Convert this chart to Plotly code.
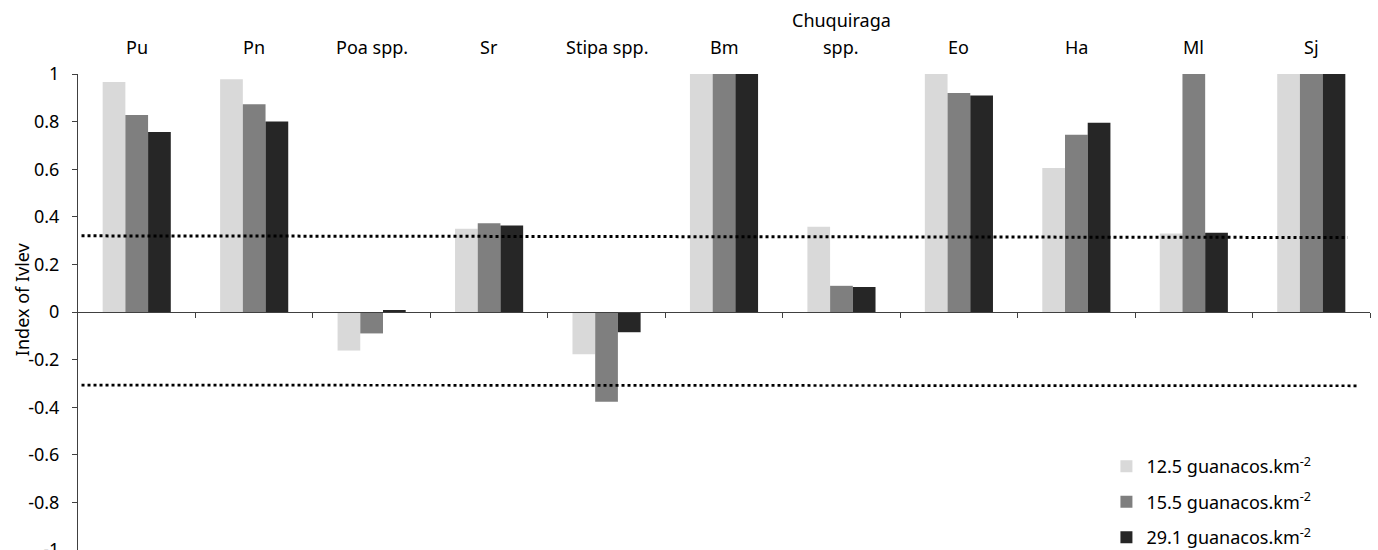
import plotly.graph_objects as go

# Plant taxa (two-line labels split with "\n")
categories = ["Pu", "Pn", "Poa spp.", "Sr", "Stipa spp.", "Bm",
              "Chuquiraga\nspp.", "Eo", "Ha", "Ml", "Sj"]

# Ivlev electivity index per guanaco density
series_names = ["12.5 guanacos.km<sup>-2</sup>",
                "15.5 guanacos.km<sup>-2</sup>",
                "29.1 guanacos.km<sup>-2</sup>"]
ivlev_12_5 = [0.966, 0.978, -0.162, 0.350, -0.178, 1.0, 0.358, 1.0, 0.605, 0.330, 1.0]
ivlev_15_5 = [0.828, 0.873, -0.090, 0.373, -0.377, 1.0, 0.110, 0.920, 0.745, 1.0, 1.0]
ivlev_29_1 = [0.756, 0.800, 0.005, 0.363, -0.085, 1.0, 0.105, 0.910, 0.795, 0.333, 1.0]
series_colors = ["#d9d9d9", "#7f7f7f", "#262626"]

# Selection / avoidance thresholds (start and end of each dotted line)
upper_x = [-0.47, 10.31]
upper_y = [0.320, 0.313]
lower_x = [-0.47, 10.39]
lower_y = [-0.307, -0.310]

y_ticks = [1, 0.8, 0.6, 0.4, 0.2, 0, -0.2, -0.4, -0.6, -0.8, -1]
y_tick_text = ["1", "0.8", "0.6", "0.4", "0.2", "0", "-0.2", "-0.4", "-0.6", "-0.8", "-1"]

FONT = "Noto Sans"
FS = 18
x_idx = list(range(len(categories)))

fig = go.Figure()
for name, vals, col in zip(series_names, [ivlev_12_5, ivlev_15_5, ivlev_29_1], series_colors):
    fig.add_trace(go.Bar(x=x_idx, y=vals, name=name, legendgroup=name,
                         marker=dict(color=col, line=dict(width=0))))

fig.add_trace(go.Scatter(x=upper_x, y=upper_y, mode="lines", showlegend=False,
                         line=dict(color="black", width=3, dash="dot")))
fig.add_trace(go.Scatter(x=lower_x, y=lower_y, mode="lines", showlegend=False,
                         line=dict(color="black", width=2.7, dash="dot")))

# Category names above the plot, bottom-aligned, one annotation per line
annotations = []
for i, lab in enumerate(categories):
    lines = lab.split("\n")
    for k, line in enumerate(reversed(lines)):
        annotations.append(dict(x=i, y=1, xref="x", yref="paper", text=line,
                                showarrow=False, xanchor="center", yanchor="bottom",
                                yshift=13 + 27 * k,
                                font=dict(family=FONT, size=FS, color="black")))

# Y-axis title placed left of the tick labels
annotations.append(dict(x=0, y=0.527, xref="paper", yref="paper", text="Index of Ivlev",
                        showarrow=False, textangle=-90, xanchor="center", yanchor="middle",
                        xshift=-56, font=dict(family=FONT, size=FS, color="black")))

fig.update_layout(
    width=1378, height=550,
    margin=dict(l=78, r=8, t=74, b=0, autoexpand=False),
    paper_bgcolor="white", plot_bgcolor="white",
    barmode="group", bargap=0.42, bargroupgap=0,
    font=dict(family=FONT, size=FS, color="black"),
    annotations=annotations,
    showlegend=True,
    legend=dict(x=0.796, y=0.214, xanchor="left", yanchor="top",
                bgcolor="rgba(0,0,0,0)", tracegroupgap=9,
                font=dict(family=FONT, size=FS, color="black"),
                itemwidth=30),
    xaxis=dict(range=[-0.5, len(categories) - 0.5], anchor="free", position=0.5,
               showgrid=False, zeroline=False, showline=True, linecolor="#404040", linewidth=1,
               tickmode="array", tickvals=[i + 0.5 for i in x_idx],
               ticks="outside", ticklen=5, tickcolor="#404040", showticklabels=False),
    yaxis=dict(range=[-1, 1], showgrid=False, zeroline=False, showline=True,
               linecolor="#404040", linewidth=1, tickmode="array",
               tickvals=y_ticks, ticktext=y_tick_text,
               ticks="outside", ticklen=5, tickcolor="#404040", ticklabelstandoff=9,
               ticklabeloverflow="allow",
               tickfont=dict(family=FONT, size=FS, color="black")),
)

fig.write_html("out.html")
